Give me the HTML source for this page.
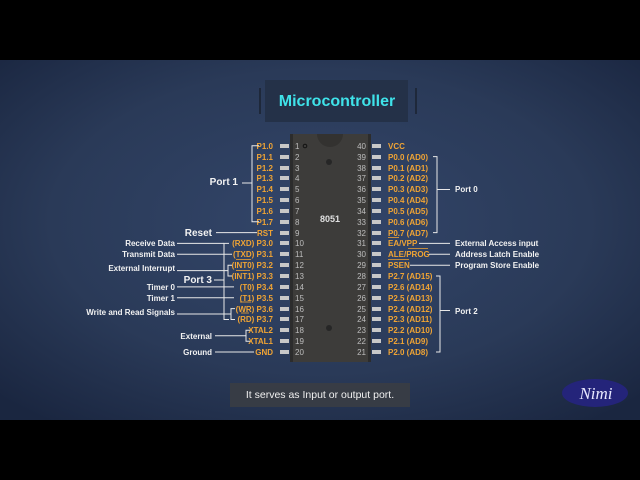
<!DOCTYPE html>
<html><head><meta charset="utf-8"><style>
html,body{margin:0;padding:0;background:#000;}
svg{display:block;}
text{font-family:"Liberation Sans",sans-serif;}
.o{fill:#f0a434;font-size:8px;font-weight:bold;}
.w{fill:#f2f2f2;font-size:8px;font-weight:bold;}
.n{fill:#bdbdbd;font-size:8px;}
.l{stroke:#e8e8e8;stroke-width:1;fill:none;}
</style></head><body>
<svg width="640" height="480" viewBox="0 0 640 480" xmlns="http://www.w3.org/2000/svg">
<defs>
<radialGradient id="bg" cx="0.5" cy="0.45" r="0.7">
<stop offset="0" stop-color="#33466a"/><stop offset="0.6" stop-color="#2a3a58"/><stop offset="1" stop-color="#1a2640"/>
</radialGradient>
</defs>
<rect x="0" y="0" width="640" height="480" fill="#000"/>
<rect x="0" y="60" width="640" height="360" fill="url(#bg)"/>
<!-- title -->
<rect x="259" y="88" width="2" height="26" fill="#1e283a"/>
<rect x="415" y="88" width="2" height="26" fill="#1e283a"/>
<rect x="265" y="80" width="143" height="42" fill="#243148"/>
<text x="337" y="106" text-anchor="middle" style="font-size:16px;font-weight:bold;fill:#3fe3ea">Microcontroller</text>
<!-- chip -->
<rect x="290" y="134" width="81" height="228" fill="#2c2c2c"/>
<rect x="293" y="134" width="75" height="228" fill="#3d3c3a"/>
<path d="M317 134 A13 13 0 0 0 343 134 Z" fill="#333230"/>
<circle cx="305" cy="146" r="1.8" fill="none" stroke="#111" stroke-width="1"/>
<circle cx="329" cy="162" r="3" fill="#262626"/>
<circle cx="329" cy="328" r="3" fill="#262626"/>
<text x="330" y="222" text-anchor="middle" style="fill:#e0e0e0;font-size:9px;font-weight:bold">8051</text>
<!-- pin stubs -->
<g fill="#c8c8c8">
<rect x="280" y="144" width="9" height="4"/><rect x="280" y="155" width="9" height="4"/><rect x="280" y="166" width="9" height="4"/><rect x="280" y="176" width="9" height="4"/><rect x="280" y="187" width="9" height="4"/><rect x="280" y="198" width="9" height="4"/><rect x="280" y="209" width="9" height="4"/><rect x="280" y="220" width="9" height="4"/><rect x="280" y="231" width="9" height="4"/><rect x="280" y="241" width="9" height="4"/><rect x="280" y="252" width="9" height="4"/><rect x="280" y="263" width="9" height="4"/><rect x="280" y="274" width="9" height="4"/><rect x="280" y="285" width="9" height="4"/><rect x="280" y="296" width="9" height="4"/><rect x="280" y="307" width="9" height="4"/><rect x="280" y="317" width="9" height="4"/><rect x="280" y="328" width="9" height="4"/><rect x="280" y="339" width="9" height="4"/><rect x="280" y="350" width="9" height="4"/>
<rect x="372" y="144" width="9" height="4"/><rect x="372" y="155" width="9" height="4"/><rect x="372" y="166" width="9" height="4"/><rect x="372" y="176" width="9" height="4"/><rect x="372" y="187" width="9" height="4"/><rect x="372" y="198" width="9" height="4"/><rect x="372" y="209" width="9" height="4"/><rect x="372" y="220" width="9" height="4"/><rect x="372" y="231" width="9" height="4"/><rect x="372" y="241" width="9" height="4"/><rect x="372" y="252" width="9" height="4"/><rect x="372" y="263" width="9" height="4"/><rect x="372" y="274" width="9" height="4"/><rect x="372" y="285" width="9" height="4"/><rect x="372" y="296" width="9" height="4"/><rect x="372" y="307" width="9" height="4"/><rect x="372" y="317" width="9" height="4"/><rect x="372" y="328" width="9" height="4"/><rect x="372" y="339" width="9" height="4"/><rect x="372" y="350" width="9" height="4"/>
</g>
<!-- pin numbers -->
<g class="n">
<text x="295" y="149">1</text><text x="295" y="160">2</text><text x="295" y="171">3</text><text x="295" y="181">4</text><text x="295" y="192">5</text><text x="295" y="203">6</text><text x="295" y="214">7</text><text x="295" y="225">8</text><text x="295" y="236">9</text><text x="295" y="246">10</text><text x="295" y="257">11</text><text x="295" y="268">12</text><text x="295" y="279">13</text><text x="295" y="290">14</text><text x="295" y="301">15</text><text x="295" y="312">16</text><text x="295" y="322">17</text><text x="295" y="333">18</text><text x="295" y="344">19</text><text x="295" y="355">20</text>
</g>
<g class="n" text-anchor="end">
<text x="366" y="149">40</text><text x="366" y="160">39</text><text x="366" y="171">38</text><text x="366" y="181">37</text><text x="366" y="192">36</text><text x="366" y="203">35</text><text x="366" y="214">34</text><text x="366" y="225">33</text><text x="366" y="236">32</text><text x="366" y="246">31</text><text x="366" y="257">30</text><text x="366" y="268">29</text><text x="366" y="279">28</text><text x="366" y="290">27</text><text x="366" y="301">26</text><text x="366" y="312">25</text><text x="366" y="322">24</text><text x="366" y="333">23</text><text x="366" y="344">22</text><text x="366" y="355">21</text>
</g>
<!-- left labels -->
<g class="o" text-anchor="end">
<text x="273" y="149">P1.0</text><text x="273" y="160">P1.1</text><text x="273" y="171">P1.2</text><text x="273" y="181">P1.3</text><text x="273" y="192">P1.4</text><text x="273" y="203">P1.5</text><text x="273" y="214">P1.6</text><text x="273" y="225">P1.7</text><text x="273" y="236">RST</text>
<text x="273" y="246">(RXD) P3.0</text><text x="273" y="257">(TXD) P3.1</text><text x="273" y="268">(INT0) P3.2</text><text x="273" y="279">(INT1) P3.3</text><text x="273" y="290">(T0) P3.4</text><text x="273" y="301">(T1) P3.5</text><text x="273" y="312">(WR) P3.6</text><text x="273" y="322">(RD) P3.7</text>
<text x="273" y="333">XTAL2</text><text x="273" y="344">XTAL1</text><text x="273" y="355">GND</text>
</g>
<g class="w" text-anchor="end">
<text x="238" y="185" style="font-size:10px">Port 1</text>
<text x="212" y="236" style="font-size:10px">Reset</text>
<text x="175" y="246">Receive Data</text><text x="175" y="257">Transmit Data</text>
<text x="175" y="271">External Interrupt</text>
<text x="212" y="283" style="font-size:10px">Port 3</text>
<text x="175" y="290">Timer 0</text><text x="175" y="301">Timer 1</text>
<text x="175" y="315">Write and Read Signals</text>
<text x="212" y="339">External</text><text x="212" y="355">Ground</text>
</g>
<g class="l">
<path d="M259 145.7 H252 V221.7 H259"/><path d="M242 183 H252"/>
<path d="M216 232.6 H257"/>
<path d="M229 243.4 H224 V319.5 H229"/><path d="M214 280 H224"/>
<path d="M177 243.4 H224"/><path d="M177 254.3 H232"/>
<path d="M232 265.2 H228 V276 H232"/><path d="M177 270.6 H228"/>
<path d="M177 286.9 H234"/><path d="M177 297.7 H234"/>
<path d="M235 308.6 H231 V319.5 H235"/><path d="M177 314 H231"/>
<path d="M250 330.3 H246 V341.2 H250"/><path d="M215 335.7 H246"/>
<path d="M215 352 H254"/>
</g>
<!-- right labels -->
<g class="o">
<text x="388" y="149">VCC</text><text x="388" y="160">P0.0 (AD0)</text><text x="388" y="171">P0.1 (AD1)</text><text x="388" y="181">P0.2 (AD2)</text><text x="388" y="192">P0.3 (AD3)</text><text x="388" y="203">P0.4 (AD4)</text><text x="388" y="214">P0.5 (AD5)</text><text x="388" y="225">P0.6 (AD6)</text><text x="388" y="236">P0.7 (AD7)</text>
<text x="388" y="246">EA/VPP</text><text x="388" y="257">ALE/PROG</text><text x="388" y="268">PSEN</text>
<text x="388" y="279">P2.7 (AD15)</text><text x="388" y="290">P2.6 (AD14)</text><text x="388" y="301">P2.5 (AD13)</text><text x="388" y="312">P2.4 (AD12)</text><text x="388" y="322">P2.3 (AD11)</text><text x="388" y="333">P2.2 (AD10)</text><text x="388" y="344">P2.1 (AD9)</text><text x="388" y="355">P2.0 (AD8)</text>
</g>
<g class="w">
<text x="455" y="192">Port 0</text>
<text x="455" y="246">External Access input</text>
<text x="455" y="257">Address Latch Enable</text>
<text x="455" y="268">Program Store Enable</text>
<text x="455" y="314">Port 2</text>
</g>
<g class="l">
<path d="M433 156.6 H437 V232.6 H433"/><path d="M437 189.5 H450"/>
<path d="M419 243.4 H450"/><path d="M429 254.3 H450"/><path d="M410 265.2 H450"/>
<path d="M436 276 H440 V352 H436"/><path d="M440 310.5 H450"/>
</g>
<!-- overlines -->
<g stroke="#f0a434" stroke-width="0.8">
<path d="M236 259.5 H251"/><path d="M236 270.5 H250"/><path d="M240 302 H251"/><path d="M241 313 H249"/>
<path d="M388 237.5 H399"/><path d="M408 248.5 H428"/><path d="M388 259.5 H409"/>
</g>
<!-- subtitle -->
<rect x="230" y="383" width="180" height="24" fill="#3a3d44" opacity="0.9"/>
<text x="320" y="398" text-anchor="middle" style="fill:#f0f0f0;font-size:10.5px">It serves as Input or output port.</text>
<!-- logo -->
<ellipse cx="595" cy="393" rx="33" ry="14" fill="#24247a"/>
<text x="596" y="399" text-anchor="middle" style="font-family:'Liberation Serif',serif;font-style:italic;font-size:17px;fill:#e8e8ff">Nimi</text>
</svg>
</body></html>
